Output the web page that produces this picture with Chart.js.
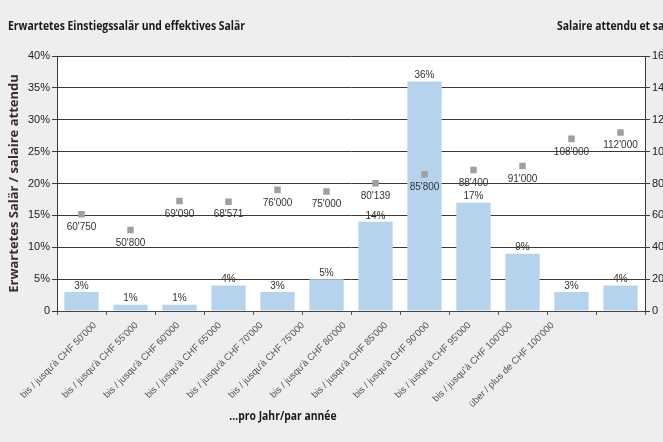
<!DOCTYPE html>
<html lang="de">
<head>
  <meta charset="UTF-8" />
  <title>Erwartetes Einstiegssalär und effektives Salär</title>
  <script src="https://cdn.jsdelivr.net/npm/chart.js"></script>
  <style>
    html, body { margin: 0; padding: 0; background: #EDEEED; overflow: hidden; }
    #wrap { position: relative; width: 730px; height: 442px; }
  </style>
</head>
<body>
  <div id="wrap"><canvas id="chart"></canvas></div>

  <script>
    const categories = [
      "bis / jusqu'à CHF 50'000", "bis / jusqu'à CHF 55'000", "bis / jusqu'à CHF 60'000",
      "bis / jusqu'à CHF 65'000", "bis / jusqu'à CHF 70'000", "bis / jusqu'à CHF 75'000",
      "bis / jusqu'à CHF 80'000", "bis / jusqu'à CHF 85'000", "bis / jusqu'à CHF 90'000",
      "bis / jusqu'à CHF 95'000", "bis / jusqu'à CHF 100'000", "über / plus de CHF 100'000"
    ];
    const sharePercent = [3, 1, 1, 4, 3, 5, 14, 36, 17, 9, 3, 4];
    const effectiveSalary = [60750, 50800, 69090, 68571, 76000, 75000, 80139, 85800, 88400, 91000, 108000, 112000];

    const titleLeft = 'Erwartetes Einstiegssalär und effektives Salär';
    const titleRight = 'Salaire attendu et salaire effectif';
    const xTitle = '...pro Jahr/par année';
    const yTitle = 'Erwartetes Salär / salaire attendu';

    const sans = '"Liberation Sans", Arial, sans-serif';
    const open = '"Open Sans", sans-serif';

    function swiss(n) {
      return String(n).replace(/\B(?=(\d{3})+(?!\d))/g, "'");
    }

    // condensed text: squeeze horizontally by factor k
    function squeezed(ctx, text, x, y, k) {
      ctx.save();
      ctx.translate(x, y);
      ctx.scale(k, 1);
      ctx.fillText(text, 0, 0);
      ctx.restore();
    }

    const decor = {
      id: 'decor',
      beforeDraw(chart) {
        const { ctx, chartArea: a } = chart;
        ctx.save();
        ctx.fillStyle = '#FFFFFF';
        ctx.fillRect(a.left, a.top, a.right - a.left, a.bottom - a.top);
        ctx.restore();
      },
      afterDraw(chart) {
        const { ctx, chartArea: a } = chart;
        ctx.save();
        ctx.fillStyle = '#1a1a1a';
        ctx.font = 'bold 12px ' + open;
        ctx.textBaseline = 'middle';
        ctx.textAlign = 'left';
        const k = 237 / ctx.measureText(titleLeft).width;
        squeezed(ctx, titleLeft, 8, 27, k);
        squeezed(ctx, titleRight, 557, 27, k);
        ctx.textAlign = 'center';
        squeezed(ctx, xTitle, 283, 417, k);

        // rotated category labels
        ctx.fillStyle = '#555555';
        ctx.font = '9.5px ' + sans;
        ctx.textAlign = 'right';
        ctx.textBaseline = 'middle';
        categories.forEach((c, i) => {
          ctx.save();
          ctx.translate(a.left + 38 + i * 41.6, a.bottom + 13);
          ctx.rotate(-Math.PI / 4);
          ctx.fillText(c, 0, 0);
          ctx.restore();
        });
        ctx.restore();
      },
      afterDatasetsDraw(chart) {
        const ctx = chart.ctx;
        ctx.save();
        ctx.fillStyle = '#333333';
        ctx.font = '10px ' + sans;
        ctx.textAlign = 'center';
        chart.getDatasetMeta(0).data.forEach((bar, i) => {
          ctx.textBaseline = 'bottom';
          ctx.fillText(sharePercent[i] + '%', bar.x, bar.y - 1);
        });
        chart.getDatasetMeta(1).data.forEach((pt, i) => {
          ctx.textBaseline = 'middle';
          ctx.fillText(swiss(effectiveSalary[i]), pt.x, pt.y + 13);
        });
        ctx.restore();
      }
    };

    new Chart(document.getElementById('chart'), {
      data: {
        labels: categories,
        datasets: [
          {
            type: 'bar',
            data: sharePercent,
            backgroundColor: '#B5D3EC',
            barPercentage: 0.7,
            categoryPercentage: 1,
            yAxisID: 'y',
            order: 2
          },
          {
            type: 'line',
            data: effectiveSalary,
            showLine: false,
            pointStyle: 'rect',
            pointRadius: 4.6,
            pointBorderWidth: 0,
            pointBackgroundColor: '#A0A0A0',
            pointBorderColor: '#A0A0A0',
            yAxisID: 'y2',
            order: 1
          }
        ]
      },
      options: {
        responsive: true,
        maintainAspectRatio: false,
        animation: false,
        layout: { padding: { top: 56, left: 0, right: 0, bottom: 0 } },
        plugins: {
          legend: { display: false },
          tooltip: { enabled: false }
        },
        scales: {
          x: {
            grid: { display: true, drawOnChartArea: false, drawTicks: true, tickLength: 4, color: '#555', offset: true },
            border: { color: '#444' },
            ticks: { display: false },
            afterFit(scale) { scale.height = 131; }
          },
          y: {
            position: 'left',
            min: 0, max: 40,
            grid: { color: '#3a3a3a', tickLength: 5 },
            border: { color: '#3a3a3a' },
            ticks: {
              stepSize: 5, padding: 2, color: '#222',
              font: { size: 11, family: sans },
              callback: v => v === 0 ? '0' : v + '%'
            },
            title: {
              display: true, text: yTitle, color: '#3f2a2a',
              font: { size: 13, weight: 'bold', family: open },
              padding: { top: 6, bottom: 0 }
            },
            afterFit(scale) { scale.width = 57; }
          },
          y2: {
            position: 'right',
            min: 0, max: 160000,
            grid: { drawOnChartArea: false, color: '#3a3a3a', tickLength: 5 },
            border: { color: '#3a3a3a' },
            ticks: {
              stepSize: 20000, padding: 2, color: '#222',
              font: { size: 11, family: sans },
              callback: v => swiss(v)
            },
            afterFit(scale) { scale.width = 730 - 645; }
          }
        }
      },
      plugins: [decor]
    });
  </script>
</body>
</html>
